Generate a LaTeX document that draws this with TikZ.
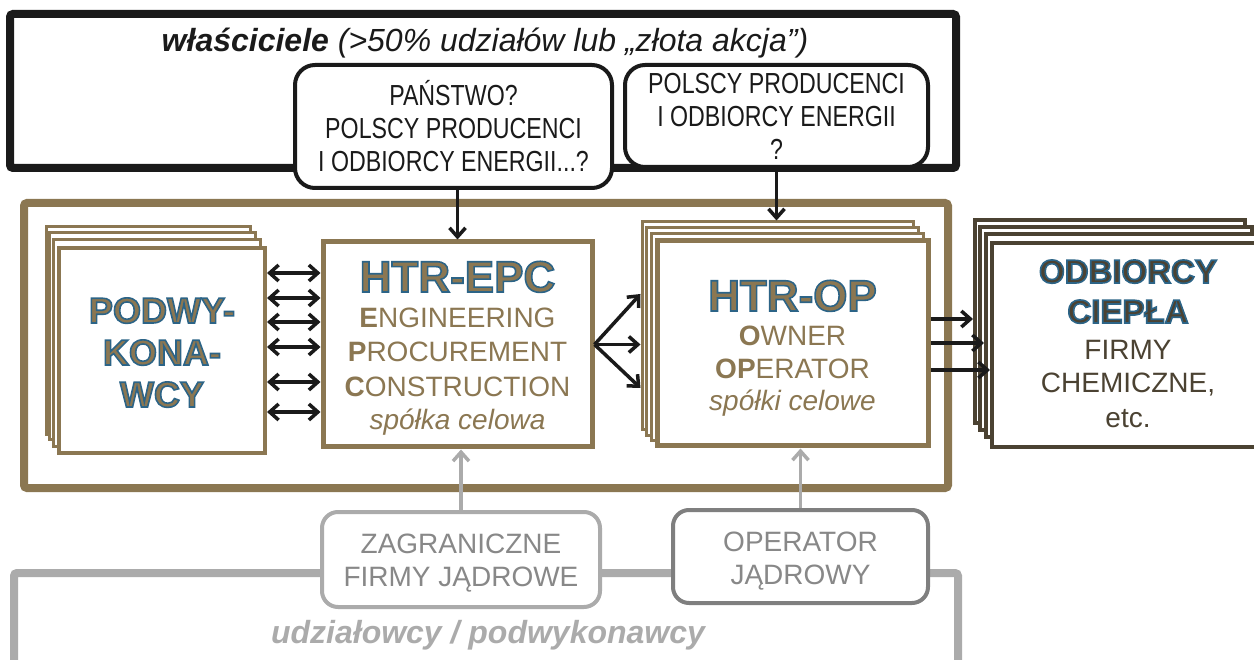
\documentclass[tikz,border=0pt]{standalone}
\usepackage{fontspec}
\setmainfont{Liberation Sans}
\newfontfamily\narrowfont[FakeStretch=0.8]{Liberation Sans}
\usetikzlibrary{arrows.meta}
\definecolor{brn}{HTML}{8B7752}
\definecolor{blu}{HTML}{2C6487}
\definecolor{blk}{HTML}{1A1A1A}
\definecolor{dkb}{HTML}{4B4232}
\definecolor{lgr}{HTML}{ABABAB}
\definecolor{mgr}{HTML}{7F7F7F}
\definecolor{tgr}{HTML}{888888}
\newcommand{\fsz}[2]{\fontsize{#1}{#2}\selectfont}
\newcommand{\outl}[2]{\textcolor{#1}{\special{pdf:literal direct q 2 Tr 1.6 w 0.173 0.392 0.529 RG}#2\special{pdf:literal direct Q}}}
\begin{document}
\begin{tikzpicture}[x=1pt,y=-1pt,
  bframe/.style={draw=blk, line width=8pt, rounded corners=3pt},
  brframe/.style={draw=brn, line width=8pt, rounded corners=3pt},
  rbox/.style={draw=blk, line width=4pt, rounded corners=20pt, fill=white, align=center, text=blk, font=\narrowfont\fsz{29}{33}},
  bstk/.style={draw=brn, line width=3pt, fill=white},
  bmain/.style={draw=brn, line width=5pt, fill=white},
  dstk/.style={draw=dkb, line width=4pt, fill=white},
  gbox/.style={line width=4pt, rounded corners=16pt, fill=white},
  lbl/.style={anchor=base, inner sep=0pt},
  arr/.style={draw=blk, line width=3.5pt, -{Straight Barb[length=9pt,width=16pt]}},
  darr/.style={draw=blk, line width=3.5pt, {Straight Barb[length=9pt,width=16pt]}-{Straight Barb[length=9pt,width=16pt]}},
  garr/.style={draw=lgr, line width=3.5pt, -{Straight Barb[length=9pt,width=16pt]}}
]
\useasboundingbox (0,0) rectangle (1254,660);

% owners frame
\node[bframe, minimum width=946pt, minimum height=154pt] (own) at (483,91) {};
\node[lbl, font=\fsz{32}{36}\itshape, text=blk] (ownt) at (485,52) {\textbf{właściciele} (>50\% udziałów lub „złota akcja”)};

% main brown frame
\node[brframe, minimum width=924pt, minimum height=285pt] (main) at (486,345.5) {};

% owner boxes
\node[rbox, minimum width=317pt, minimum height=123pt] (pan) at (453.5,126.5) {PAŃSTWO?\\POLSCY PRODUCENCI\\I ODBIORCY ENERGII...?};
\node[rbox, minimum width=303pt, minimum height=102pt] (pol) at (776.5,116) {POLSCY PRODUCENCI\\I ODBIORCY ENERGII\\?};

% subcontractors stack
\node[bstk, minimum width=204pt, minimum height=208pt] (pd1) at (148,331) {};
\node[bstk, minimum width=206pt, minimum height=207pt] (pd2) at (152,336.5) {};
\node[bstk, minimum width=207pt, minimum height=207pt] (pd3) at (156.5,343.5) {};
\node[bmain, line width=4pt, minimum width=206pt, minimum height=205pt] (pdf) at (162,350.5) {};
\node[lbl, font=\fsz{36}{42}\bfseries] (pdt1) at (162,323) {\outl{brn}{PODWY-}};
\node[lbl, font=\fsz{36}{42}\bfseries] (pdt2) at (162,365) {\outl{brn}{KONA-}};
\node[lbl, font=\fsz{36}{42}\bfseries] (pdt3) at (162,407) {\outl{brn}{WCY}};

% HTR-EPC
\node[bmain, minimum width=269pt, minimum height=205pt] (epc) at (457.5,344.5) {};
\node[lbl, font=\fsz{44}{48}\bfseries] (epc1) at (457.5,292) {\outl{brn}{HTR-EPC}};
\node[lbl, font=\fsz{28}{32}, text=brn] (epc2) at (457.5,328) {\textbf{E}NGINEERING};
\node[lbl, font=\fsz{28}{32}, text=brn] (epc3) at (457.5,362) {\textbf{P}ROCUREMENT};
\node[lbl, font=\fsz{28}{32}, text=brn] (epc4) at (457.5,397) {\textbf{C}ONSTRUCTION};
\node[lbl, font=\fsz{28}{32}\itshape, text=brn] (epc5) at (457.5,430) {spółka celowa};

% HTR-OP stack
\node[bstk, minimum width=271pt, minimum height=208pt] (op1) at (777.5,326) {};
\node[bstk, minimum width=272pt, minimum height=208pt] (op2) at (782,332) {};
\node[bstk, minimum width=272pt, minimum height=207pt] (op3) at (787,337.5) {};
\node[bmain, minimum width=271pt, minimum height=205pt] (opf) at (792.5,343.5) {};
\node[lbl, font=\fsz{44}{48}\bfseries] (opt1) at (792.5,311) {\outl{brn}{HTR-OP}};
\node[lbl, font=\fsz{28}{32}, text=brn] (opt2) at (792.5,346) {\textbf{O}WNER};
\node[lbl, font=\fsz{28}{32}, text=brn] (opt3) at (792.5,379) {\textbf{OP}ERATOR};
\node[lbl, font=\fsz{28}{32}\itshape, text=brn] (opt4) at (792.5,411) {spółki celowe};

% heat consumers stack
\node[dstk, minimum width=270pt, minimum height=203pt] (od1) at (1110,321.5) {};
\node[dstk, minimum width=272pt, minimum height=203pt] (od2) at (1116,328.5) {};
\node[dstk, minimum width=272pt, minimum height=203pt] (od3) at (1122,335.5) {};
\node[dstk, minimum width=272pt, minimum height=204pt] (odf) at (1128,345) {};
\node[lbl, font=\fsz{33}{38}\bfseries] (odt1) at (1128,283) {\outl{dkb}{ODBIORCY}};
\node[lbl, font=\fsz{33}{38}\bfseries] (odt2) at (1128,323) {\outl{dkb}{CIEPŁA}};
\node[lbl, font=\fsz{28}{32}, text=dkb] (odt3) at (1128,360) {FIRMY};
\node[lbl, font=\fsz{28}{32}, text=dkb] (odt4) at (1128,393) {CHEMICZNE,};
\node[lbl, font=\fsz{28}{32}, text=dkb] (odt5) at (1128,428) {etc.};

% shareholders frame
\draw[draw=lgr, line width=8pt, rounded corners=3pt] (14,680) -- (14,573) -- (958,573) -- (958,680);
\node[lbl, font=\fsz{32}{36}\bfseries\itshape, text=lgr] (udz) at (488,643) {udziałowcy / podwykonawcy};

\node[gbox, draw=lgr, minimum width=278pt, minimum height=95pt] (zag) at (461,559.5) {};
\node[lbl, font=\fsz{28}{32}, text=tgr] (zag1) at (461,553) {ZAGRANICZNE};
\node[lbl, font=\fsz{28}{32}, text=tgr] (zag2) at (461,586) {FIRMY JĄDROWE};
\node[gbox, draw=mgr, minimum width=255pt, minimum height=93pt] (opj) at (800.5,556.5) {};
\node[lbl, font=\fsz{28}{32}, text=tgr] (opj1) at (800.5,551) {OPERATOR};
\node[lbl, font=\fsz{28}{32}, text=tgr] (opj2) at (800.5,584) {JĄDROWY};

% connectors
\draw[arr] (epc.north |- pan.south) -- (epc.north);
\draw[arr] (pol.south) -- (pol.south |- op1.north);
\foreach \s in {71.5,46.5,22.5,-2.5,-37.5,-67.5}
  \draw[darr] ([yshift=\s pt]epc.west -| pdf.east) -- ([yshift=\s pt]epc.west);
\draw[arr] (epc.east) -- ([yshift=50.5pt]epc.east -| op1.west);
\draw[arr] (epc.east) -- (epc.east -| op1.west);
\draw[arr] (epc.east) -- ([yshift=-43.5pt]epc.east -| op1.west);
\draw[arr] ([yshift=24.5pt]opf.east) -- ([yshift=24.5pt]opf.east -| od1.west);
\draw[arr] ([yshift=0.5pt]opf.east) -- ([yshift=0.5pt]opf.east -| od3.west);
\draw[arr] ([yshift=-26.5pt]opf.east) -- ([yshift=-26.5pt]opf.east -| odf.west);
\draw[garr] (zag.north) -- (zag.north |- epc.south);
\draw[garr] (opj.north) -- (opj.north |- opf.south);
\end{tikzpicture}
\end{document}
